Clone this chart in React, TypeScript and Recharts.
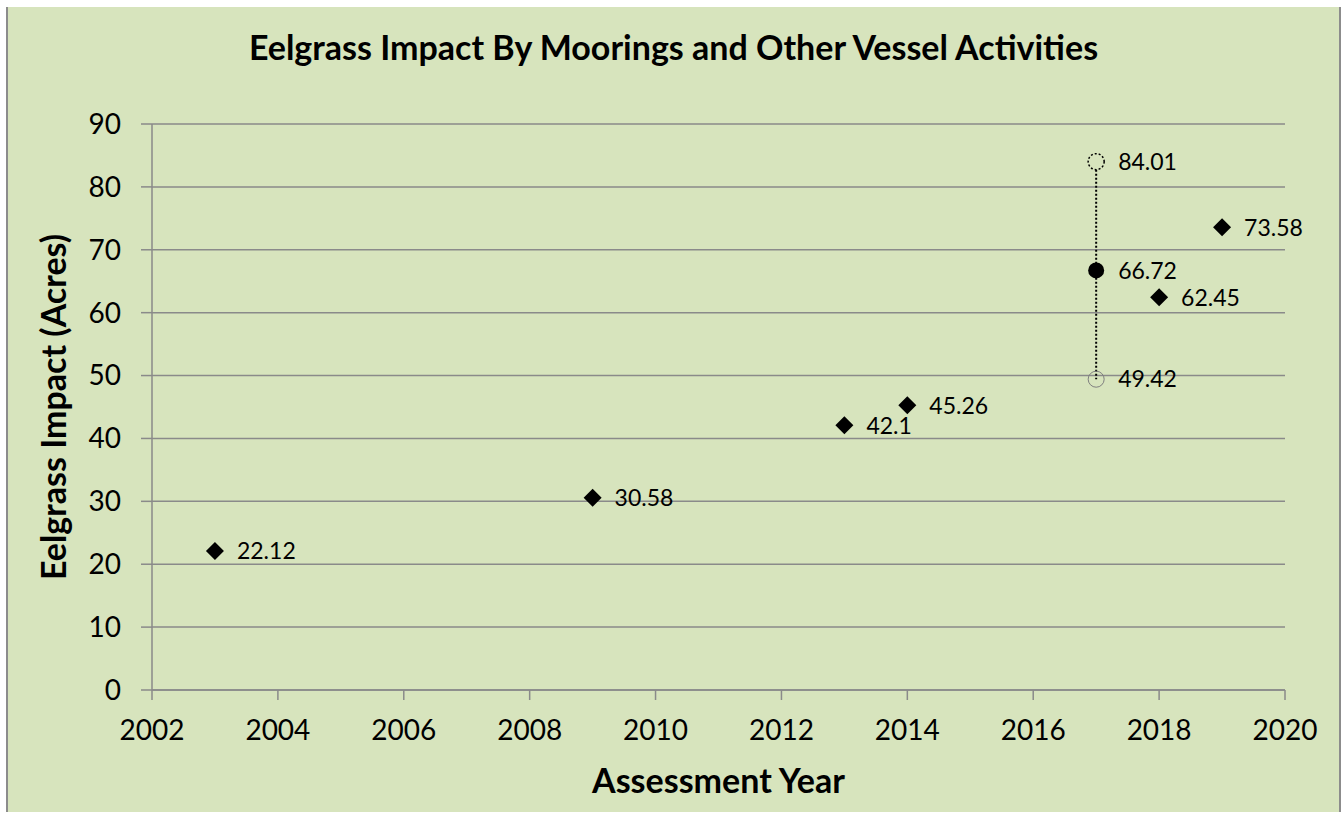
import { ScatterChart, Scatter, XAxis, YAxis, CartesianGrid, Label } from 'recharts';

// assessment results (acres)
const years = [2003, 2009, 2013, 2014, 2018, 2019];
const impacts = [22.12, 30.58, 42.1, 45.26, 62.45, 73.58];

// 2017 estimate with its low / high range
const meanYear = [2017];
const meanImpact = [66.72];
const rangeYears = [2017, 2017];
const rangeValues = [84.01, 49.42];
const rangeKinds = ['high', 'low'];

const xTicks = [2002, 2004, 2006, 2008, 2010, 2012, 2014, 2016, 2018, 2020];
const yTicks = [0, 10, 20, 30, 40, 50, 60, 70, 80, 90];

const BG = '#d7e4bd';
const GRID = '#8a8a8a';

const points = years.map((x, i) => ({ x, y: impacts[i] }));
const mean = meanYear.map((x, i) => ({ x, y: meanImpact[i] }));
const range = rangeYears.map((x, i) => ({ x, y: rangeValues[i], kind: rangeKinds[i] }));

const ValueText = ({ cx, cy, value }: { cx: number; cy: number; value: number }) => (
    <text x={cx + 22} y={cy} dy="0.36em" fontSize={23} fill="#000">
        {value}
    </text>
);

const DiamondShape = (props: any) => {
    const { cx, cy, payload } = props;
    const r = 9;
    return (
        <g>
            <polygon
                points={`${cx},${cy - r} ${cx + r},${cy} ${cx},${cy + r} ${cx - r},${cy}`}
                fill="#000"
            />
            <ValueText cx={cx} cy={cy} value={payload.y} />
        </g>
    );
};

const MeanShape = (props: any) => {
    const { cx, cy, payload } = props;
    return (
        <g>
            <circle cx={cx} cy={cy} r={8} fill="#000" />
            <ValueText cx={cx} cy={cy} value={payload.y} />
        </g>
    );
};

const RangeShape = (props: any) => {
    const { cx, cy, payload } = props;
    const high = payload.kind === 'high';
    return (
        <g>
            {high ? (
                <circle cx={cx} cy={cy} r={8} fill={BG} stroke="#000" strokeWidth={1.5} strokeDasharray="2 2" />
            ) : (
                <circle cx={cx} cy={cy} r={8} fill="none" stroke="#7f7f7f" strokeWidth={1} />
            )}
            <ValueText cx={cx} cy={cy} value={payload.y} />
        </g>
    );
};

const App = () => {
    return (
        <div
            style={{
                position: 'absolute',
                left: 6,
                top: 7,
                width: 1335,
                height: 805,
                boxSizing: 'border-box',
                background: BG,
                borderLeft: '2px solid #8c8c8c',
                borderRight: '2px solid #8c8c8c',
                fontFamily: 'Lato, "Open Sans", sans-serif',
            }}
        >
            <div
                style={{
                    position: 'absolute',
                    top: 23,
                    left: 0,
                    width: '100%',
                    textAlign: 'center',
                    fontSize: 34,
                    lineHeight: '34px',
                    fontWeight: 'bold',
                    color: '#000',
                }}
            >
                Eelgrass Impact By Moorings and Other Vessel Activities
            </div>
            <div style={{ position: 'absolute', left: 0, top: 0 }}>
                <ScatterChart
                    width={1331}
                    height={805}
                    margin={{ top: 117, right: 54, bottom: 0, left: 0 }}
                >
                    <CartesianGrid vertical={false} stroke={GRID} strokeWidth={1.5} />
                    <XAxis
                        type="number"
                        dataKey="x"
                        domain={[2002, 2020]}
                        ticks={xTicks}
                        height={122}
                        tickSize={10}
                        tickMargin={20}
                        stroke={GRID}
                        strokeWidth={1.5}
                        tick={{ fill: '#000', fontSize: 28 }}
                    >
                        <Label
                            value="Assessment Year"
                            position="insideBottom"
                            offset={19}
                            style={{ fontSize: 34, fontWeight: 'bold', fill: '#000' }}
                        />
                    </XAxis>
                    <YAxis
                        type="number"
                        dataKey="y"
                        domain={[0, 90]}
                        ticks={yTicks}
                        width={144}
                        tickSize={11}
                        tickMargin={20}
                        stroke={GRID}
                        strokeWidth={1.5}
                        tick={{ fill: '#000', fontSize: 28 }}
                    >
                        <Label
                            value="Eelgrass Impact (Acres)"
                            angle={-90}
                            position="insideLeft"
                            offset={46}
                            style={{ fontSize: 34, fontWeight: 'bold', fill: '#000', textAnchor: 'middle' }}
                        />
                    </YAxis>
                    <Scatter
                        data={range}
                        shape={RangeShape}
                        line={{ stroke: '#000', strokeWidth: 2, strokeDasharray: '2 2' }}
                        isAnimationActive={false}
                    />
                    <Scatter data={mean} shape={MeanShape} isAnimationActive={false} />
                    <Scatter data={points} shape={DiamondShape} isAnimationActive={false} />
                </ScatterChart>
            </div>
        </div>
    );
};

export default App;
